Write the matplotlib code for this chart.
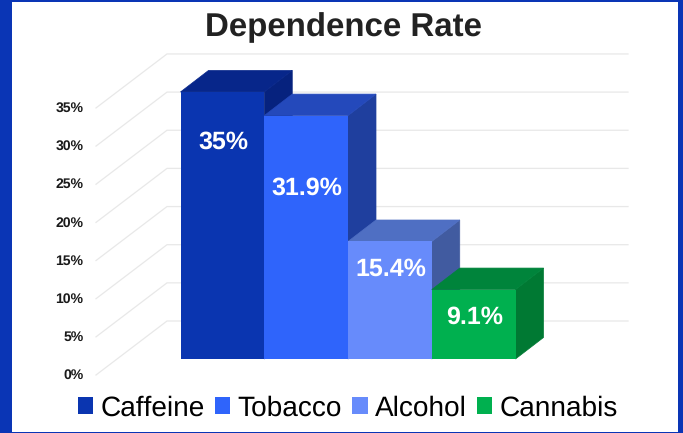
#!/usr/bin/env python3

import matplotlib
matplotlib.use("Agg")
import matplotlib.pyplot as plt
from matplotlib.patches import Patch, Polygon

categories = ["Caffeine", "Tobacco", "Alcohol", "Cannabis"]
values = [35, 31.9, 15.4, 9.1]
value_labels = ["35%", "31.9%", "15.4%", "9.1%"]
label_heights = [28.4, 22.4, 11.7, 5.5]  # labels are not centred in the bars
ticks = [0, 5, 10, 15, 20, 25, 30, 35]
front_colors = ["#0a35b0", "#2f64fb", "#678bfb", "#00b04f"]
top_colors = ["#07268a", "#2449bb", "#4f6fc3", "#00843b"]
side_colors = ["#06227e", "#1f3f9e", "#415ba0", "#007933"]

plt.rcParams["font.family"] = ["Liberation Sans", "DejaVu Sans"]
plt.rcParams["text.hinting"] = "no_hinting"
plt.rcParams["text.hinting_factor"] = 1

W, H = 683, 433
PX_X = 83.75  # pixels per category
PX_Y = 7.63  # pixels per percent
X0, Y0 = 180.5, 359  # where the first bar meets the floor
L, R, T, B = 12, 678, 2, 431.5  # white panel

fig = plt.figure(figsize=(W / 100, H / 100), dpi=100, facecolor="#0a35b5")
ax = fig.add_axes([L / W, 1 - B / H, (R - L) / W, (B - T) / H], facecolor="white")
ax.set_xticks([])
ax.set_yticks([])
for s in ax.spines.values():
    s.set_visible(False)

# Grid: floor diagonal then back wall line
fx, fy = (96 - X0) / PX_X, (Y0 - 375) / PX_Y
bx, by = (167 - X0) / PX_X, (Y0 - 321) / PX_Y
ex = (628 - X0) / PX_X
for t in ticks:
    ax.plot([fx, bx, ex], [t + fy, t + by, t + by], color="#e8e8e8", lw=0.9, zorder=1,
            solid_joinstyle="miter")
    ax.text((83.5 - X0) / PX_X, t + fy - 0.05, f"{t}%", ha="right", va="center",
            fontsize=10, fontweight="bold", color="#1a1a1a")

# Bars drawn left to right so later ones cover the earlier side faces
dx, dy = 28 / PX_X, 21.5 / PX_Y
for i, v in enumerate(values):
    ax.add_patch(Polygon([(i + 1, 0), (i + 1 + dx, dy), (i + 1 + dx, v + dy), (i + 1, v)],
                         facecolor=side_colors[i], edgecolor=side_colors[i], lw=0.5, zorder=2 + i))
    ax.add_patch(Polygon([(i, v), (i + dx, v + dy), (i + 1 + dx, v + dy), (i + 1, v)],
                         facecolor=top_colors[i], edgecolor=top_colors[i], lw=0.5, zorder=2 + i))
    ax.bar(i + 0.5, v, width=1, color=front_colors[i], zorder=2 + i)
    ax.text(i + 0.51, label_heights[i], value_labels[i], ha="center", va="center",
            fontsize=18.1, fontweight="bold", color="white", zorder=10)

ax.set_xlim((L - X0) / PX_X, (R - X0) / PX_X)
ax.set_ylim((Y0 - B) / PX_Y, (Y0 - T) / PX_Y)

fig.text((205 + 481) / 2 / W, 1 - 27.5 / H, "Dependence Rate", ha="center", va="center",
         fontsize=23.7, fontweight="bold", color="#222222")

handles = [Patch(facecolor=c, edgecolor="none") for c in front_colors]
fig.legend(handles, categories, ncol=4, loc="center", bbox_to_anchor=(348 / W, 1 - 408 / H),
           frameon=False, fontsize=20.2, handlelength=0.54, handleheight=0.54,
           handletextpad=0.26, columnspacing=0.37, borderpad=0, labelcolor="black")

fig.savefig("out.png", dpi=100)
